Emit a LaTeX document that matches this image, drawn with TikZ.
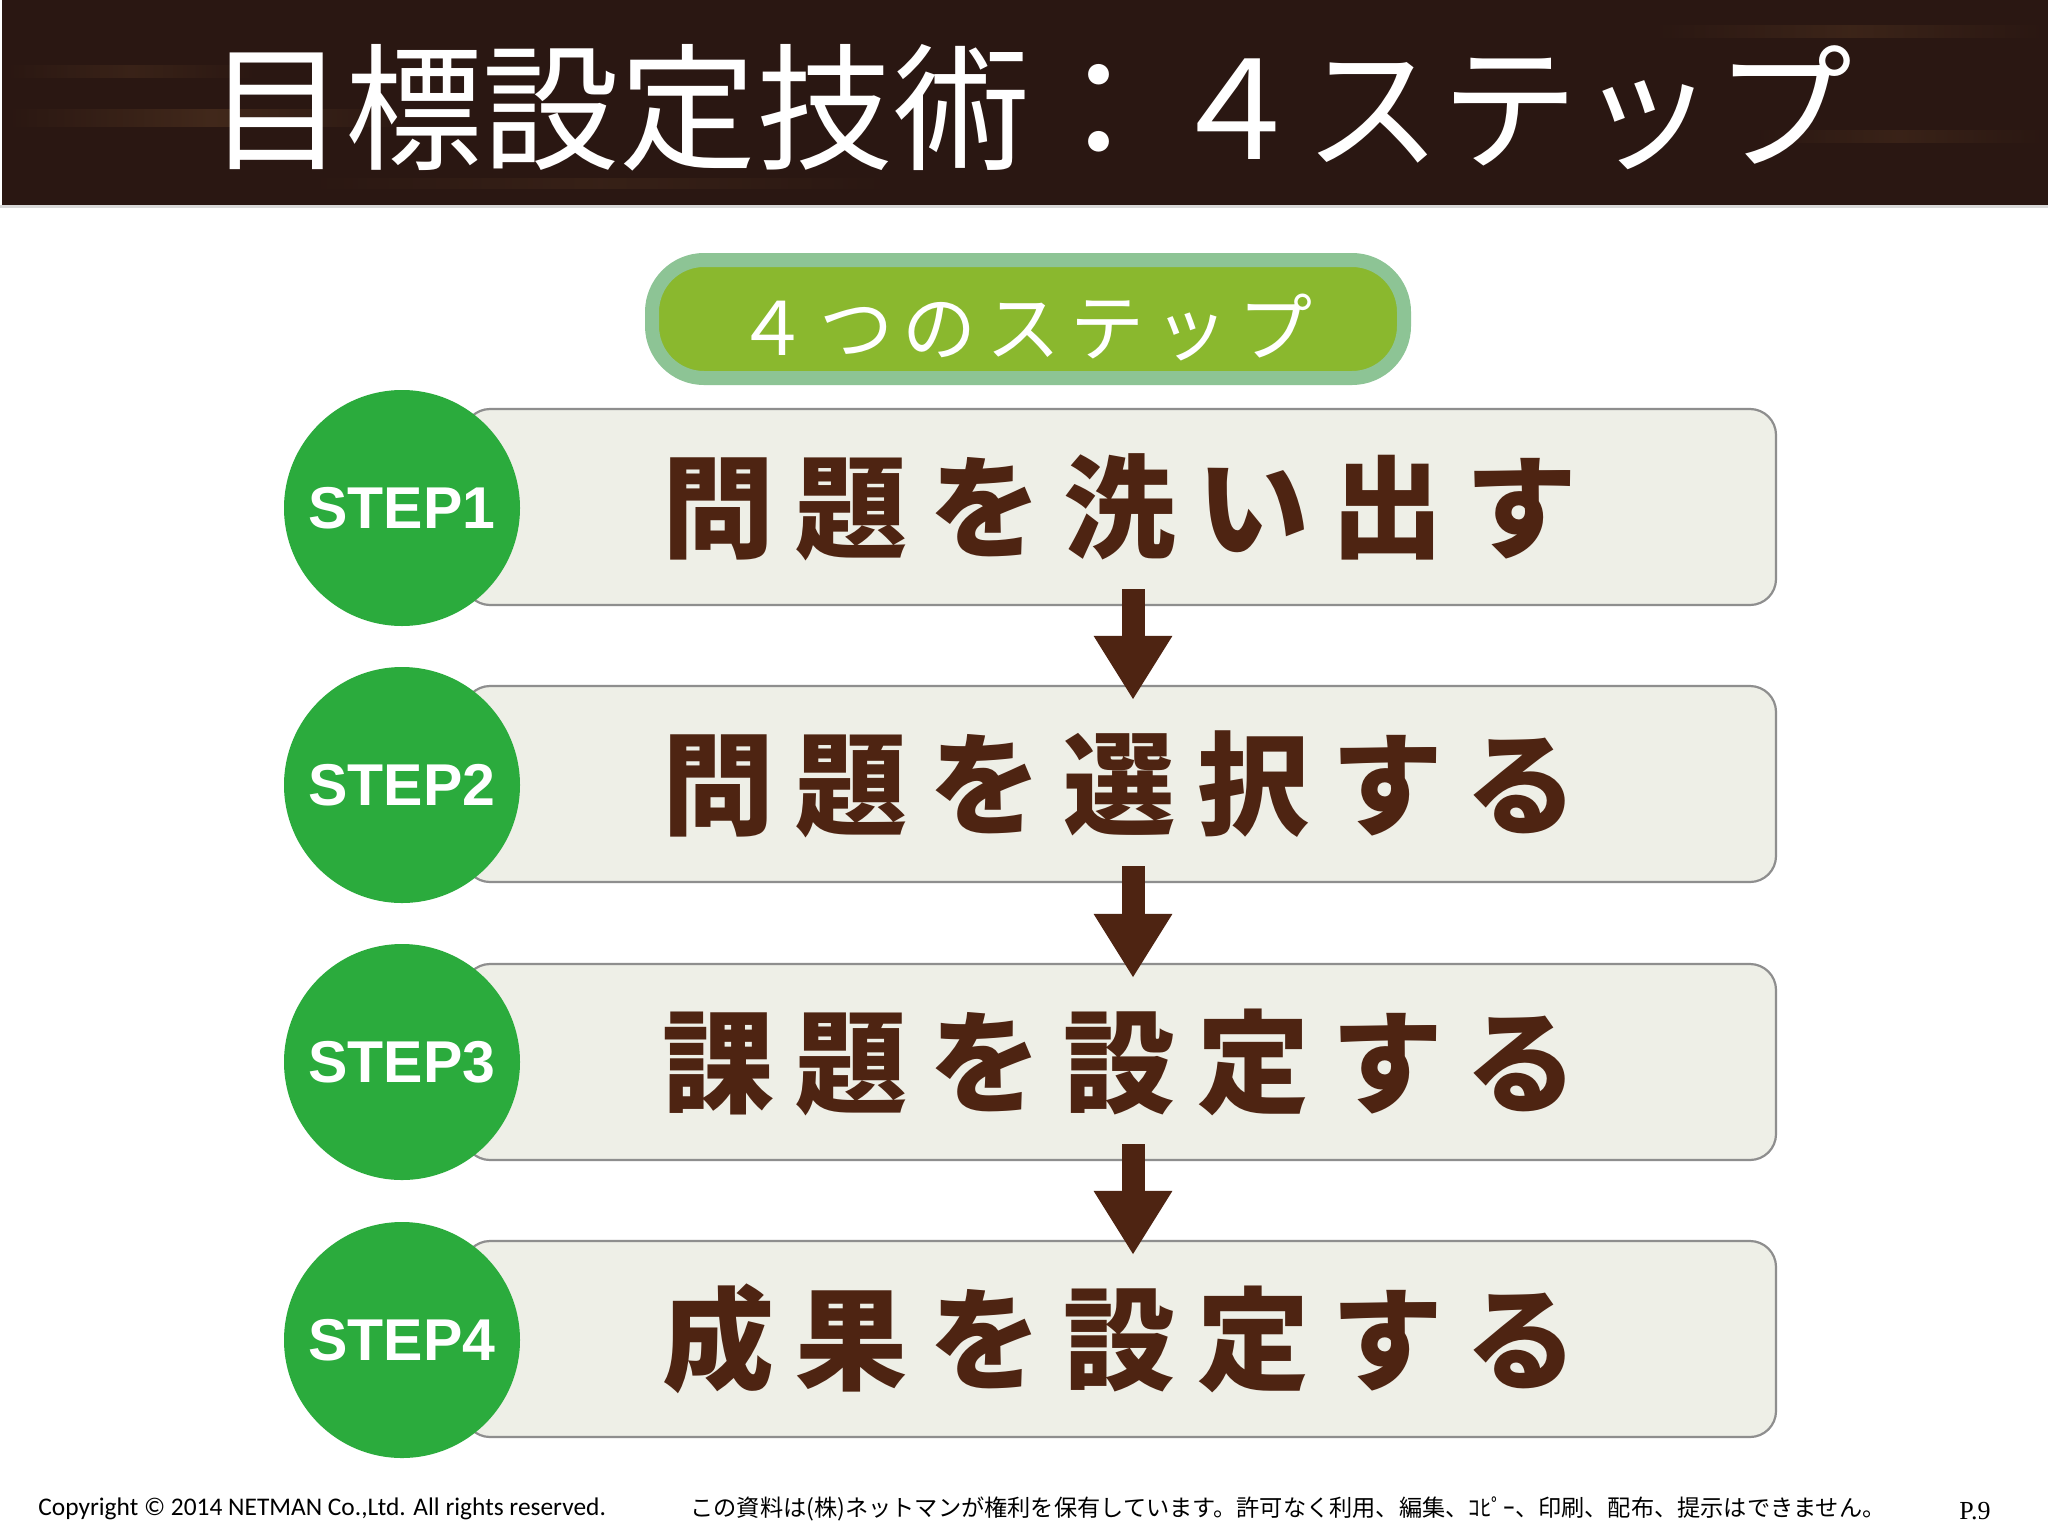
\documentclass[tikz,border=0pt]{standalone}
\usepackage{fontspec}
\usetikzlibrary{arrows.meta}
\newfontfamily\jp{Noto Sans CJK JP}
\newfontfamily\lsans{Liberation Sans}
\newfontfamily\carl{Carlito}
\newfontfamily\lserif{Liberation Serif}
\definecolor{bandc}{HTML}{2A1712}
\definecolor{streak}{HTML}{5E3E26}
\definecolor{pillfill}{HTML}{8AB82E}
\definecolor{pillline}{HTML}{8DC495}
\definecolor{boxfill}{HTML}{EEEFE7}
\definecolor{boxline}{HTML}{8E8E8E}
\definecolor{stepgreen}{HTML}{2BAB3D}
\definecolor{brn}{HTML}{4E2412}
\newcommand\ks{\kern 11pt}
\newcommand\kp{\kern 5pt}
\begin{document}
\begin{tikzpicture}[x=0.5pt,y=-0.5pt,
  stepbox/.style={draw=boxline, line width=1.1pt, fill=boxfill, rounded corners=13pt,
    minimum width=656pt, minimum height=98pt, inner sep=0pt, text=brn,
    font=\jp\bfseries\fontsize{56pt}{60pt}\selectfont},
  stepdot/.style={circle, fill=stepgreen, minimum size=118pt, inner sep=0pt, text=white,
    font=\lsans\bfseries\fontsize{29.5pt}{32pt}\selectfont},
  arr/.style={draw=brn, line width=11.5pt, -{Triangle[width=37pt,length=32pt]}},
  streakbar/.style={left color=bandc, right color=bandc, middle color=streak},
  foot/.style={anchor=west, inner sep=0pt, text=black}]
\useasboundingbox (0,0) rectangle (2048,1536);
\fill[white] (0,0) rectangle (2048,1536);
% title band
\fill[bandc] (2,0) rectangle (2048,205);
\shade[streakbar, opacity=.45] (2,110) rectangle (420,126);
\shade[streakbar, opacity=.3] (2,66) rectangle (260,78);
\shade[streakbar, opacity=.35] (1650,26) rectangle (2048,38);
\shade[streakbar, opacity=.3] (1750,130) rectangle (2048,142);
\shade[streakbar, opacity=.25] (300,178) rectangle (900,188);
\fill[black!15] (0,205) rectangle (2048,208);
\node[text=white, inner sep=0pt, font=\jp\fontsize{68.5pt}{72pt}\selectfont] (title) at (1030,108) {目標設定技術：４ステップ};
% pill
\node[draw=pillline, line width=7pt, fill=pillfill, rounded corners=26pt,
  minimum width=376pt, minimum height=59pt, inner sep=0pt, text=white,
  text height=40pt, text depth=4pt,
  font=\jp\fontsize{37pt}{39pt}\selectfont] (pill) at (1028,319)
  {\hspace*{-4pt}４\kp つ\kp の\kp ス\kp テ\kp ッ\kp プ};
% boxes
\node[stepbox] (b1) at (1120,507) {問\ks 題\ks を\ks 洗\ks い\ks 出\ks す};
\node[stepbox] (b2) at (1120,784) {問\ks 題\ks を\ks 選\ks 択\ks す\ks る};
\node[stepbox] (b3) at (1120,1062) {課\ks 題\ks を\ks 設\ks 定\ks す\ks る};
\node[stepbox] (b4) at (1120,1339) {成\ks 果\ks を\ks 設\ks 定\ks す\ks る};
% circles
\node[stepdot] (s1) at (402,508) {STEP1};
\node[stepdot] (s2) at (402,785) {STEP2};
\node[stepdot] (s3) at (402,1062) {STEP3};
\node[stepdot] (s4) at (402,1340) {STEP4};
% arrows
\draw[arr] ([xshift=6.5pt,yshift=8.5pt]b1.south) -- ([xshift=6.5pt,yshift=-7.5pt]b2.north);
\draw[arr] ([xshift=6.5pt,yshift=8.5pt]b2.south) -- ([xshift=6.5pt,yshift=-7.5pt]b3.north);
\draw[arr] ([xshift=6.5pt,yshift=8.5pt]b3.south) -- ([xshift=6.5pt,yshift=-7.5pt]b4.north);
% footer
\node[foot, font=\carl\fontsize{12.7pt}{14pt}\selectfont] (copy) at (38,1509) {Copyright © 2014 NETMAN Co.,Ltd. All rights reserved.};
\node[foot, font=\jp\fontsize{11.6pt}{13pt}\selectfont] (note) at (690,1509) {この資料は(株)ネットマンが権利を保有しています。許可なく利用、編集、ｺﾋﾟｰ、印刷、配布、提示はできません。};
\node[foot, font=\lserif\fontsize{13pt}{15pt}\selectfont] (page) at (1959,1511) {P.9};
\end{tikzpicture}
\end{document}
